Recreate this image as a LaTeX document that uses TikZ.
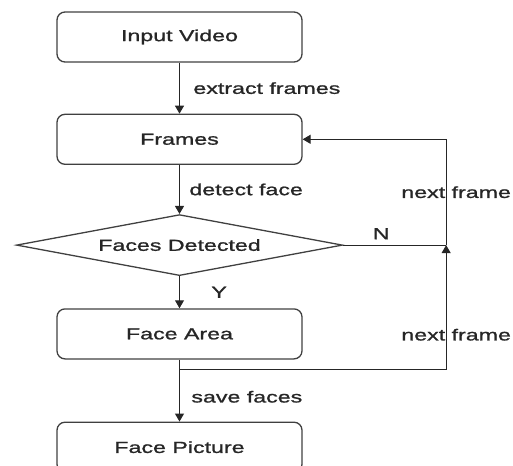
\documentclass[tikz,border=0pt]{standalone}
\usepackage{fontspec}
\setmainfont[FakeStretch=1.45,FakeBold=1.2]{Liberation Sans}
\usetikzlibrary{positioning,shapes.geometric,arrows.meta}

\begin{document}
\begin{tikzpicture}[
   x=1pt, y=1pt,
   every node/.append style={font=\fontsize{16}{19}\selectfont, text=black!85},
   stage/.style={draw=black!75, line width=1.3pt, rounded corners=8pt,
                 minimum width=245pt, minimum height=50pt},
   check/.style={diamond, aspect=5.3, draw=black!75, line width=1.3pt, inner sep=0pt,
                 minimum width=326pt, minimum height=61pt},  % <-- flat diamond
   flow/.style={draw=black!85, line width=1.1pt, -{Triangle[length=8pt,width=9pt]}},
   link/.style={draw=black!85, line width=1.1pt}
]
\useasboundingbox (0,0) rectangle (513,-465);

\node[stage] (video) at (179.5,-37) {Input Video};
\node[stage, below=51pt of video] (frames) {Frames};
\node[check, below=49pt of frames] (detected) {Faces Detected};
\node[stage, below=32pt of detected] (area) {Face Area};
\node[stage, below=62pt of area] (picture) {Face Picture};

% loop back to the next frame
\coordinate[right=103pt of detected.east] (join);
\coordinate[below=10pt of area.south] (branch);

\draw[flow] (video) -- node[midway, right=10pt] {extract frames} (frames);
\draw[flow] (frames) -- node[midway, right=6pt] {detect face} (detected);
\draw[flow] (detected) -- node[midway, right=28pt] {Y} (area);
\draw[flow] (area) -- node[pos=0.6, right=8pt] {save faces} (picture);
\draw[link] (detected.east) -- node[pos=0.37, above=2pt] {N} (join);
\draw[flow] (branch) -| node[pos=0.64, xshift=10pt] {next frame} (join);
\draw[flow] (join) |- node[pos=0.25, xshift=10pt] {next frame} (frames.east);
\end{tikzpicture}
\end{document}
